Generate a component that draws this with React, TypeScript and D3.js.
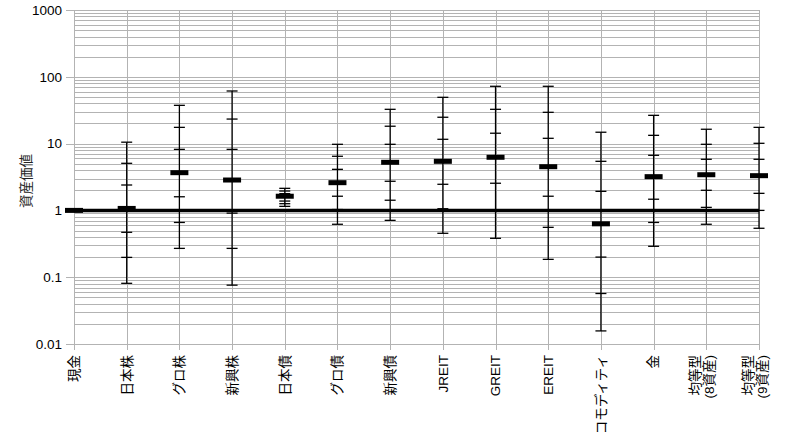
import * as d3 from "d3";
import React, { useEffect, useRef } from "react";

// Asset classes (x axis); "\n" splits a label into two columns
const categories = [
  "現金",
  "日本株",
  "グロ株",
  "新興株",
  "日本債",
  "グロ債",
  "新興債",
  "JREIT",
  "GREIT",
  "EREIT",
  "コモディティ",
  "金",
  "均等型\n(8資産)",
  "均等型\n(9資産)",
];

// Asset value distribution, from top cap to bottom cap
const maxValues = [1, 10.5, 37.4, 61.3, 2.14, 9.76, 32.6, 49.3, 72.1, 72.1, 14.8, 26.5, 16.4, 17.5];
const upper2 = [1, 5.07, 17.5, 23.3, 1.95, 6.46, 18.2, 24.8, 32.6, 29.4, 5.43, 13.3, 9.76, 10.1];
const upper1 = [1, 2.4, 8.2, 8.2, 1.78, 4.12, 9.76, 11.6, 14.3, 12.0, 1.93, 6.68, 5.82, 5.82];
const medians = [1, 1.07, 3.67, 2.85, 1.63, 2.6, 5.25, 5.43, 6.24, 4.51, 0.63, 3.2, 3.42, 3.31];
const lower1 = [1, 0.47, 1.6, 0.91, 1.38, 1.63, 2.73, 2.46, 2.55, 1.63, 0.2, 1.47, 2.0, 1.8];
const lower2 = [1, 0.198, 0.66, 0.27, 1.26, 1.03, 1.42, 1.06, 1.02, 0.558, 0.057, 0.66, 1.11, 1.0];
const minValues = [1, 0.081, 0.27, 0.076, 1.15, 0.62, 0.71, 0.454, 0.382, 0.185, 0.0157, 0.29, 0.62, 0.54];

const yTicks = [0.01, 0.1, 1, 10, 100, 1000];
const baseline = 1;

const width = 788;
const height = 443;

const App: React.FC = () => {
  const svgRef = useRef<SVGSVGElement>(null);

  useEffect(() => {
    if (!svgRef.current) return;
    const margin = { top: 10, right: 29, bottom: 99, left: 74 };
    const plotWidth = width - margin.left - margin.right;
    const plotHeight = height - margin.top - margin.bottom;

    d3.select(svgRef.current).selectAll("*").remove();
    const svg = d3.select(svgRef.current).attr("width", width).attr("height", height);
    const g = svg.append("g").attr("transform", `translate(${margin.left},${margin.top})`);

    const x = d3.scalePoint<string>().domain(categories).range([0, plotWidth]);
    const y = d3.scaleLog().domain([0.01, 1000]).range([plotHeight, 0]);

    const gridColor = "#b3b3b3";

    // minor + major horizontal grid
    const minor: number[] = [];
    yTicks.slice(0, -1).forEach((t) => {
      for (let k = 1; k < 10; k++) minor.push(t * k);
    });
    minor.push(1000);
    g.append("g")
      .selectAll("line")
      .data(minor)
      .join("line")
      .attr("x1", 0)
      .attr("x2", plotWidth)
      .attr("y1", (d) => Math.round(y(d)) + 0.5)
      .attr("y2", (d) => Math.round(y(d)) + 0.5)
      .attr("stroke", gridColor)
      .attr("stroke-width", 1);

    // vertical grid at each category
    g.append("g")
      .selectAll("line")
      .data(categories)
      .join("line")
      .attr("x1", (d) => Math.round(x(d)!) + 0.5)
      .attr("x2", (d) => Math.round(x(d)!) + 0.5)
      .attr("y1", 0)
      .attr("y2", plotHeight + 6)
      .attr("stroke", gridColor);

    // y axis ticks and labels
    const yAxis = g.append("g");
    yAxis
      .selectAll("line")
      .data(yTicks)
      .join("line")
      .attr("x1", -8)
      .attr("x2", 0)
      .attr("y1", (d) => Math.round(y(d)) + 0.5)
      .attr("y2", (d) => Math.round(y(d)) + 0.5)
      .attr("stroke", gridColor);
    yAxis
      .selectAll("text")
      .data(yTicks)
      .join("text")
      .attr("x", -12)
      .attr("y", (d) => y(d))
      .attr("dy", "0.36em")
      .attr("text-anchor", "end")
      .style("font-family", "'Liberation Sans', Arial, sans-serif")
      .style("font-size", "13.5px")
      .text((d) => String(d));

    // x labels, rotated
    const labels = g
      .append("g")
      .style("font-family", "'Liberation Sans', 'Noto Sans CJK JP', sans-serif")
      .style("font-size", "13.5px")
      .selectAll("text")
      .data(categories)
      .join("text")
      .attr("text-anchor", "end")
      .attr("transform", (d) => `translate(${x(d)},${plotHeight + 11}) rotate(-90)`);
    labels.each(function (d) {
      const parts = d.split("\n");
      const offsets = parts.length > 1 ? [-11, 3] : [0];
      parts.forEach((p, i) => {
        d3.select(this)
          .append("tspan")
          .attr("x", 0)
          .attr("y", offsets[i])
          .attr("dy", "0.36em")
          .text(p);
      });
    });

    // baseline at 1
    g.append("line")
      .attr("x1", 0)
      .attr("x2", plotWidth)
      .attr("y1", y(baseline))
      .attr("y2", y(baseline))
      .attr("stroke", "black")
      .attr("stroke-width", 3.5);

    // whiskers
    const idx = d3.range(categories.length).filter((i) => maxValues[i] !== minValues[i]);
    const bars = g.append("g");
    bars
      .selectAll("line.whisker")
      .data(idx)
      .join("line")
      .attr("class", "whisker")
      .attr("x1", (i) => x(categories[i])!)
      .attr("x2", (i) => x(categories[i])!)
      .attr("y1", (i) => y(maxValues[i]))
      .attr("y2", (i) => y(minValues[i]))
      .attr("stroke", "black")
      .attr("stroke-width", 1.3);

    const caps = idx.flatMap((i) =>
      [maxValues, upper2, upper1, lower1, lower2, minValues].map((arr) => ({ i, v: arr[i] })),
    );
    bars
      .selectAll("line.cap")
      .data(caps)
      .join("line")
      .attr("class", "cap")
      .attr("x1", (d) => x(categories[d.i])! - 5.5)
      .attr("x2", (d) => x(categories[d.i])! + 5.5)
      .attr("y1", (d) => y(d.v))
      .attr("y2", (d) => y(d.v))
      .attr("stroke", "black")
      .attr("stroke-width", 1.3);

    // median bars
    g.append("g")
      .selectAll("rect")
      .data(categories)
      .join("rect")
      .attr("x", (d) => x(d)! - 9)
      .attr("y", (d, i) => y(medians[i]) - 2.5)
      .attr("width", 18)
      .attr("height", 5)
      .attr("fill", "black");

    // y title
    svg
      .append("text")
      .attr("transform", `translate(26,181) rotate(-90)`)
      .attr("text-anchor", "middle")
      .attr("dy", "0.36em")
      .style("font-family", "'Noto Sans CJK JP', sans-serif")
      .style("font-size", "13.5px")
      .attr("fill", "#222")
      .text("資産価値");
  }, []);

  return <svg ref={svgRef} style={{ position: "absolute", left: 0, top: 0, background: "white" }} />;
};

export default App;
